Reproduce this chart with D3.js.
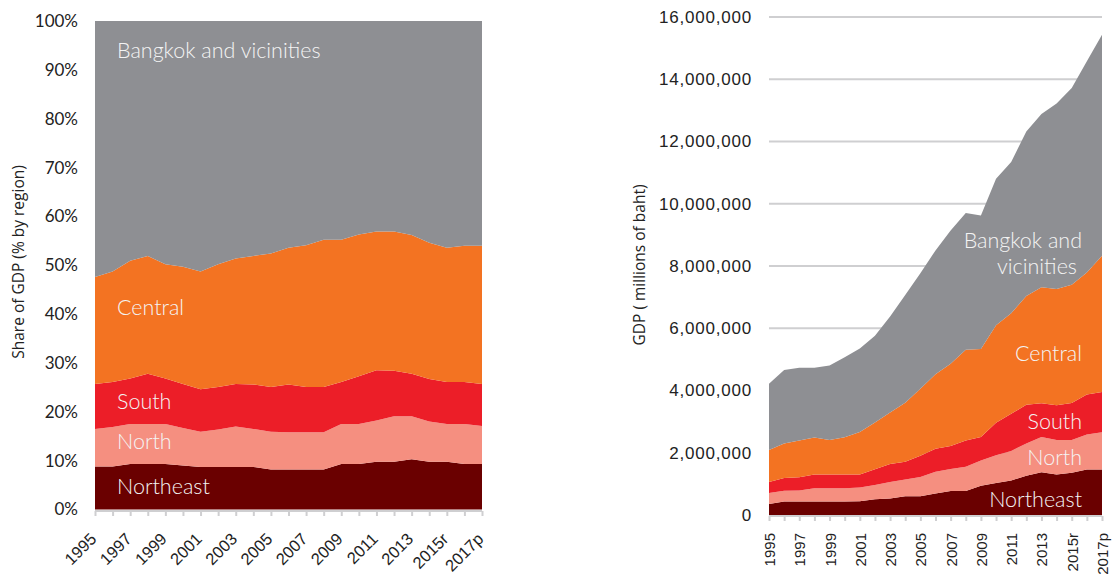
<!DOCTYPE html>
<html>
<head>
<meta charset="utf-8">
<script src="https://cdn.jsdelivr.net/npm/d3@7"></script>
<style>
  html, body { margin: 0; padding: 0; background: #ffffff; }
  svg { display: block; font-family: Lato, "Open Sans", sans-serif; }
</style>
</head>
<body>
<svg id="chart" width="1114" height="579"></svg>
<script>
// ---------------- DATA ----------------
const years = ["1995","1996","1997","1998","1999","2000","2001","2002","2003","2004","2005","2006","2007","2008","2009","2010","2011","2012","2013","2014","2015r","2016","2017p"];
const tickLabels = ["1995","1997","1999","2001","2003","2005","2007","2009","2011","2013","2015r","2017p"];
const regions = ["Northeast","North","South","Central","Bangkok and vicinities"];

// Left chart: share of GDP by region (%)
const shareNortheast = [8.8,8.8,9.3,9.3,9.3,9.0,8.7,8.7,8.7,8.7,8.2,8.2,8.2,8.2,9.3,9.3,9.8,9.8,10.3,9.8,9.8,9.3,9.3];
const shareNorth     = [7.7,8.1,8.2,8.2,8.2,7.7,7.2,7.7,8.3,7.8,7.7,7.6,7.6,7.6,8.2,8.2,8.4,9.3,8.8,8.2,7.7,8.2,7.8];
const shareSouth     = [9.2,9.2,9.3,10.3,9.3,9.0,8.7,8.7,8.7,9.1,9.2,9.8,9.3,9.3,8.6,9.8,10.3,9.3,8.7,8.7,8.6,8.6,8.6];
const shareCentral   = [21.9,22.6,24.1,24.1,23.4,24.0,24.1,25.1,25.7,26.3,27.3,28.0,29.0,30.1,29.1,29.0,28.4,28.5,28.4,27.9,27.5,27.9,28.3];
const shareBangkok   = [52.4,51.3,49.1,48.1,49.8,50.3,51.3,49.8,48.6,48.1,47.6,46.4,45.9,44.8,44.8,43.7,43.1,43.1,43.8,45.4,46.4,46.0,46.0];
const shareTicks = [0,10,20,30,40,50,60,70,80,90,100];

// Right chart: GDP (millions of baht)
const gdpNortheast = [354000,430000,430000,430000,430000,430000,440000,510000,530000,600000,600000,690000,770000,770000,940000,1030000,1110000,1260000,1370000,1300000,1360000,1460000,1460000];
const gdpNorth     = [356000,350000,360000,430000,430000,430000,440000,450000,530000,540000,620000,700000,710000,780000,810000,890000,950000,1040000,1140000,1110000,1050000,1130000,1200000];
const gdpSouth     = [350000,410000,420000,440000,440000,440000,420000,510000,580000,570000,680000,740000,740000,840000,760000,1040000,1190000,1240000,1080000,1120000,1190000,1280000,1290000];
const gdpCentral   = [1030000,1110000,1180000,1190000,1110000,1200000,1370000,1500000,1650000,1900000,2160000,2390000,2640000,2920000,2820000,3140000,3230000,3500000,3730000,3730000,3800000,3920000,4380000];
const gdpBangkok   = [2130000,2360000,2340000,2240000,2390000,2570000,2680000,2790000,3090000,3460000,3710000,3980000,4280000,4390000,4290000,4700000,4860000,5280000,5560000,5960000,6320000,6790000,7100000];
const gdpTicks = [0,2000000,4000000,6000000,8000000,10000000,12000000,14000000,16000000];

// ---------------- STYLE ----------------
const colors = {
  "Northeast": "#6a0000",
  "North": "#f58f80",
  "South": "#ec1e28",
  "Central": "#f37322",
  "Bangkok and vicinities": "#8e8f93"
};
const textColor = "#222222";
const labelColor = "#f4f4f4";
const axisGray = "#cfcfd1";

const svg = d3.select("#chart");

function buildRows(arrs) {
  return years.map((y, i) => {
    const r = { year: y };
    regions.forEach((k, j) => r[k] = arrs[j][i]);
    return r;
  });
}

// ================= LEFT CHART =================
(function() {
  const rows = buildRows([shareNortheast, shareNorth, shareSouth, shareCentral, shareBangkok]);
  const stack = d3.stack().keys(regions)(rows);
  const x = d3.scalePoint().domain(years).range([95, 482]);
  const y = d3.scaleLinear().domain([0, 100]).range([509.5, 21]);
  const g = svg.append("g");

  const area = d3.area()
    .x(d => x(d.data.year))
    .y0(d => y(d[0]))
    .y1(d => y(Math.min(100, d[1])));

  g.selectAll("path.layer").data(stack).join("path")
    .attr("class", "layer")
    .attr("d", area)
    .attr("fill", d => colors[d.key]);

  const yAxis = d3.axisLeft(y).tickValues(shareTicks).tickFormat(d => d + "%").tickSize(0).tickPadding(0);
  const ya = g.append("g").attr("transform", "translate(78,0)").call(yAxis);
  ya.select(".domain").remove();
  ya.selectAll("text").attr("fill", textColor).style("font-size", "17px").style("font-family", "Lato, sans-serif");

  const xAxis = d3.axisBottom(x).tickValues(years).tickSize(5).tickFormat(d => tickLabels.includes(d) ? d : "");
  const xa = g.append("g").attr("transform", "translate(0,511)").call(xAxis);
  xa.select(".domain").attr("stroke", axisGray).attr("stroke-width", 2).attr("d", "M95,0H482");
  xa.selectAll(".tick line").attr("stroke", axisGray).attr("stroke-width", 2);
  xa.selectAll(".tick text")
    .attr("fill", textColor)
    .style("font-size", "16.5px")
    .attr("text-anchor", "end")
    .attr("x", 0).attr("y", 0).attr("dy", 0)
    .attr("transform", "translate(2,29) rotate(-45)");

  svg.append("text")
    .attr("transform", "translate(24,262) rotate(-90)")
    .attr("text-anchor", "middle")
    .attr("fill", textColor)
    .style("font-family", "'Open Sans', sans-serif")
    .style("font-size", "15.5px")
    .text("Share of GDP (% by region)");

  const lbl = [
    ["Bangkok and vicinities", 50],
    ["Central", 307],
    ["South", 401],
    ["North", 441],
    ["Northeast", 486]
  ];
  g.selectAll("text.rl").data(lbl).join("text")
    .attr("class", "rl")
    .attr("x", 117).attr("y", d => d[1]).attr("dy", "0.36em")
    .attr("fill", labelColor)
    .style("font-size", "21.5px")
    .style("font-weight", 300)
    .text(d => d[0]);
})();

// ================= RIGHT CHART =================
(function() {
  const rows = buildRows([gdpNortheast, gdpNorth, gdpSouth, gdpCentral, gdpBangkok]);
  const stack = d3.stack().keys(regions)(rows);
  const x = d3.scalePoint().domain(years).range([769, 1102]);
  const y = d3.scaleLinear().domain([0, 16000000]).range([515, 17]);
  const g = svg.append("g");

  g.selectAll("line.grid").data(gdpTicks.filter(t => t > 0)).join("line")
    .attr("class", "grid")
    .attr("x1", 769).attr("x2", 1102)
    .attr("y1", d => y(d)).attr("y2", d => y(d))
    .attr("stroke", axisGray).attr("stroke-width", 2);

  const area = d3.area()
    .x(d => x(d.data.year))
    .y0(d => y(d[0]))
    .y1(d => y(d[1]));

  g.selectAll("path.layer").data(stack).join("path")
    .attr("class", "layer")
    .attr("d", area)
    .attr("fill", d => colors[d.key]);

  const yAxis = d3.axisLeft(y).tickValues(gdpTicks).tickFormat(d3.format(",")).tickSize(0).tickPadding(0);
  const ya = g.append("g").attr("transform", "translate(752,0)").call(yAxis);
  ya.select(".domain").remove();
  ya.selectAll("text").attr("fill", textColor).style("font-size", "17px").style("letter-spacing", "0.8px");

  const xAxis = d3.axisBottom(x).tickValues(years).tickSize(5).tickFormat(d => tickLabels.includes(d) ? d : "");
  const xa = g.append("g").attr("transform", "translate(0,516)").call(xAxis);
  xa.select(".domain").attr("stroke", axisGray).attr("stroke-width", 2).attr("d", "M769,0H1102");
  xa.selectAll(".tick line").attr("stroke", axisGray).attr("stroke-width", 2);
  xa.selectAll(".tick text")
    .attr("fill", textColor)
    .style("font-size", "15px")
    .attr("text-anchor", "end")
    .attr("x", 0).attr("y", 0).attr("dy", 0)
    .attr("transform", "translate(5.5,17) rotate(-90)");

  svg.append("text")
    .attr("transform", "translate(645,265) rotate(-90)")
    .attr("text-anchor", "middle")
    .attr("fill", textColor)
    .style("font-family", "'Open Sans', sans-serif")
    .style("font-size", "15.5px")
    .text("GDP ( millions of baht)");

  const lbl = [
    ["Bangkok and", 240, 1082],
    ["vicinities", 266, 1077],
    ["Central", 353, 1082],
    ["South", 421, 1082],
    ["North", 457, 1082],
    ["Northeast", 499, 1082]
  ];
  g.selectAll("text.rl").data(lbl).join("text")
    .attr("class", "rl")
    .attr("x", d => d[2]).attr("y", d => d[1]).attr("dy", "0.36em")
    .attr("text-anchor", "end")
    .attr("fill", labelColor)
    .style("font-size", "21.5px")
    .style("font-weight", 300)
    .text(d => d[0]);
})();
</script>
</body>
</html>
